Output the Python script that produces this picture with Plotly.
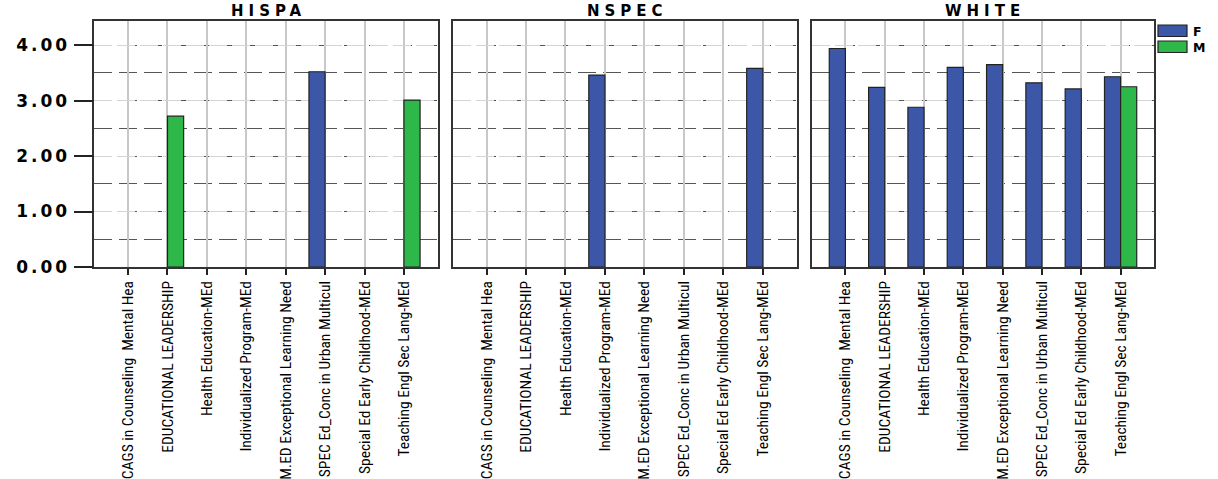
import plotly.graph_objects as go

categories = [
    "CAGS in Counseling  Mental Hea",
    "EDUCATIONAL LEADERSHIP",
    "Health Education-MEd",
    "Individualized Program-MEd",
    "M.ED Exceptional Learning Need",
    "SPEC Ed_Conc in Urban Multicul",
    "Special Ed Early Childhood-MEd",
    "Teaching Engl Sec Lang-MEd",
]
panels = ["HISPA", "NSPEC", "WHITE"]
series_names = ["F", "M"]

hispa_f = [None, None, None, None, None, 3.52, None, None]
hispa_m = [None, 2.72, None, None, None, None, None, 3.01]
nspec_f = [None, None, None, 3.46, None, None, None, 3.58]
nspec_m = [None, None, None, None, None, None, None, None]
white_f = [3.94, 3.24, 2.88, 3.60, 3.65, 3.32, 3.21, 3.43]
white_m = [None, None, None, None, None, None, None, 3.25]

y_tickvals = [0, 1, 2, 3, 4]
y_ticktext = ["0.00", "1.00", "2.00", "3.00", "4.00"]

F_COLOR = "#3c57a8"
M_COLOR = "#2fb84a"
colors = [F_COLOR, M_COLOR]

series_f = [hispa_f, nspec_f, white_f]
series_m = [hispa_m, nspec_m, white_m]

W, H = 1218, 479
xdoms = [(94.3 / W, 437.7 / W), (452.7 / W, 796.7 / W), (811.7 / W, 1154.3 / W)]
ydom = ((H - 267.0) / H, (H - 21.3) / H)

fig = go.Figure()
for i in range(3):
    xa = "x" if i == 0 else f"x{i+1}"
    ya = "y" if i == 0 else f"y{i+1}"
    fig.add_trace(go.Bar(x=categories, y=series_f[i], name="F", marker_color=F_COLOR,
                         marker_line_color="#222222", marker_line_width=1.2,
                         xaxis=xa, yaxis=ya, showlegend=False))
    fig.add_trace(go.Bar(x=categories, y=series_m[i], name="M", marker_color=M_COLOR,
                         marker_line_color="#222222", marker_line_width=1.2,
                         xaxis=xa, yaxis=ya, showlegend=False))

label_font = dict(family="Liberation Sans Narrow, Arial Narrow, Roboto Condensed, Liberation Sans, sans-serif",
                  size=15.5, color="#000000")

layout = dict(
    width=W, height=H,
    margin=dict(l=0, r=0, t=0, b=0, autoexpand=False),
    paper_bgcolor="white", plot_bgcolor="white",
    barmode="group", bargap=0.18, bargroupgap=0.0,
    showlegend=False,
)

for i in range(3):
    xk = "xaxis" if i == 0 else f"xaxis{i+1}"
    yk = "yaxis" if i == 0 else f"yaxis{i+1}"
    ya = "y" if i == 0 else f"y{i+1}"
    xa = "x" if i == 0 else f"x{i+1}"
    layout[xk] = dict(
        domain=list(xdoms[i]), anchor=ya, range=[-0.857, 7.857], automargin=False,
        showline=True, linecolor="#333333", linewidth=1.5, mirror=True,
        ticks="outside", ticklen=6, tickwidth=1.5, tickcolor="#222",
        tickangle=-90, tickfont=label_font,
        showgrid=True, gridcolor="#c8c8c8", gridwidth=2,
        categoryorder="array", categoryarray=categories,
        fixedrange=True,
    )
    layout[yk] = dict(
        domain=list(ydom), anchor=xa, range=[0, 4.43], automargin=False,
        tickvals=y_tickvals,
        ticktext=['<span style="letter-spacing:3px">' + t + '</span>' for t in y_ticktext],
        showticklabels=(i == 0),
        ticks="outside" if i == 0 else "", ticklen=19, tickwidth=1.5, tickcolor="#222",
        tickfont=dict(family="DejaVu Sans", size=17, color="#000", weight="bold"),
        showline=True, linecolor="#333333", linewidth=1.5, mirror=True,
        showgrid=True, gridcolor="#d4d4d4", gridwidth=1.2, griddash="18px,5px",
        minor=dict(dtick=0.5, tick0=0, showgrid=True, gridcolor="#555555",
                   gridwidth=1.2, griddash="18px,7px", ticks=""),
        zeroline=False, fixedrange=True,
    )
    if i > 0:
        layout[yk]["matches"] = "y"

fig.update_layout(**layout)

for i, name in enumerate(panels):
    fig.add_annotation(text='<b><span style="letter-spacing:5px">' + name + '</span></b>',
                       x=(xdoms[i][0] + xdoms[i][1]) / 2 + 2.5 / W,
                       y=1 - 10.5 / H, xref="paper", yref="paper",
                       xanchor="center", yanchor="middle", showarrow=False,
                       font=dict(family="DejaVu Sans", size=15, color="#000"))

# legend (swatches + labels)
for k, nm in enumerate(series_names):
    y0 = 25 + k * 16
    fig.add_shape(type="rect", xref="paper", yref="paper",
                  x0=1158 / W, x1=1187 / W, y0=1 - (y0 + 11.5) / H, y1=1 - y0 / H,
                  fillcolor=colors[k], line=dict(color="#222", width=1.2))
    fig.add_annotation(text='<b><span style="letter-spacing:1px">' + nm + "</span></b>",
                       x=1192 / W, y=1 - (y0 + 6.5) / H, borderpad=0,
                       xref="paper", yref="paper", xanchor="left", yanchor="middle",
                       showarrow=False, font=dict(family="DejaVu Sans", size=12.5, color="#000"))

fig.write_html("out.html", config={"displayModeBar": False},
               post_script="document.body.style.margin='0px';document.body.style.padding='0px';")
